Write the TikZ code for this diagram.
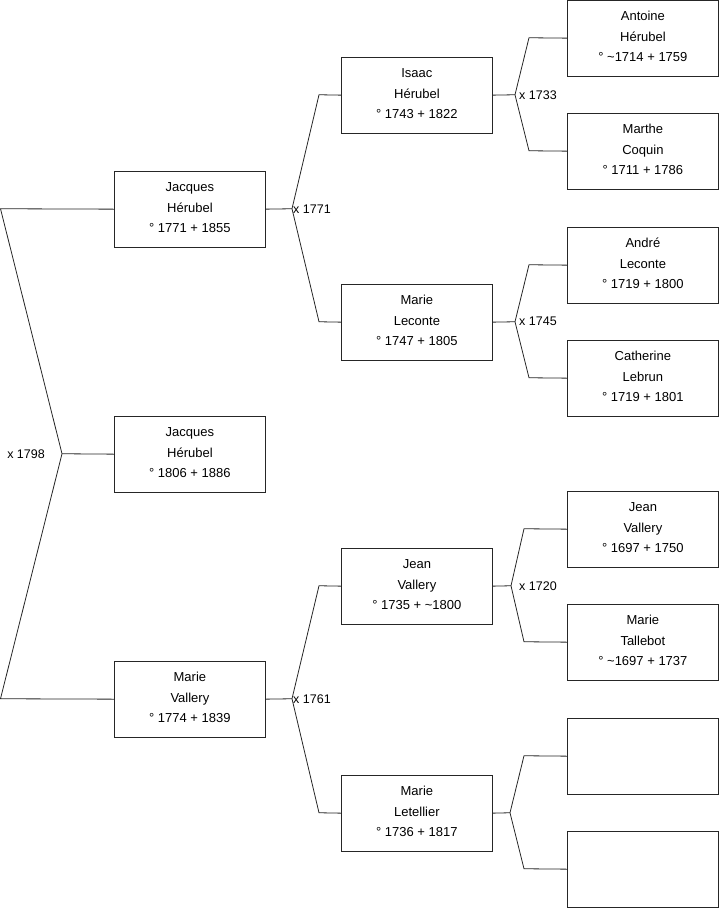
\documentclass[tikz,border=0pt]{standalone}
\usepackage{fontspec}
\setmainfont{Liberation Sans}
\begin{document}
\begin{tikzpicture}[x=1pt,y=-1pt,
  person/.style={draw=black!85, line width=0.8pt, minimum width=151pt, minimum height=75.5pt, inner sep=0pt, anchor=north west},
  txt/.style={align=center, inner sep=0pt, yshift=1.5pt, font=\fontsize{13}{20.5}\selectfont},
  link/.style={draw=black!85, line width=0.8pt},
  lbl/.style={font=\fontsize{12.5}{14}\selectfont, inner sep=0pt}]
\useasboundingbox (0,0) rectangle (719,908);
% column 1
\node[person, label={[txt]center:{Jacques\\Hérubel\\° 1771 + 1855}}] (j1) at (114,171) {};
\node[person, label={[txt]center:{Jacques\\Hérubel\\° 1806 + 1886}}] (j0) at (114,416) {};
\node[person, label={[txt]center:{Marie\\Vallery\\° 1774 + 1839}}] (mv) at (114,661) {};
% column 2
\node[person, label={[txt]center:{Isaac\\Hérubel\\° 1743 + 1822}}] (ih) at (341,57) {};
\node[person, label={[txt]center:{Marie\\Leconte\\° 1747 + 1805}}] (ml) at (341,284) {};
\node[person, label={[txt]center:{Jean\\Vallery\\° 1735 + \textasciitilde 1800}}] (jv) at (341,548) {};
\node[person, label={[txt]center:{Marie\\Letellier\\° 1736 + 1817}}] (mle) at (341,775) {};
% column 3
\node[person, label={[txt]center:{Antoine\\Hérubel\\° \textasciitilde 1714 + 1759}}] (ah) at (567,0) {};
\node[person, label={[txt]center:{Marthe\\Coquin\\° 1711 + 1786}}] (mc) at (567,113) {};
\node[person, label={[txt]center:{André\\Leconte\\° 1719 + 1800}}] (al) at (567,227) {};
\node[person, label={[txt]center:{Catherine\\Lebrun\\° 1719 + 1801}}] (cl) at (567,340) {};
\node[person, label={[txt]center:{Jean\\Vallery\\° 1697 + 1750}}] (jv2) at (567,491) {};
\node[person, label={[txt]center:{Marie\\Tallebot\\° \textasciitilde 1697 + 1737}}] (mt) at (567,604) {};
\node[person] (e1) at (567,718) {};
\node[person] (e2) at (567,831) {};
% left bracket
\coordinate (a1) at (0.5,208.75);
\coordinate (a0) at (62,453.75);
\coordinate (a2) at (0.5,698.75);
\draw[link] (j1.west) -- (a1) -- (a0) -- (a2) -- (mv.west);
\draw[link] (a0) -- (j0.west);
\node[lbl, anchor=east] (l1798) at (45,453.75) {x 1798};
% j1 parents
\coordinate (b1) at (292,208.75);
\coordinate (b1u) at (319,94.75);
\coordinate (b1d) at (319,321.75);
\draw[link] (j1.east) -- (b1);
\draw[link] (ih.west) -- (b1u) -- (b1) -- (b1d) -- (ml.west);
\node[lbl, anchor=west] (l1771) at (293,208.75) {x 1771};
% mv parents
\coordinate (b2) at (292,698.75);
\coordinate (b2u) at (319,585.75);
\coordinate (b2d) at (319,812.75);
\draw[link] (mv.east) -- (b2);
\draw[link] (jv.west) -- (b2u) -- (b2) -- (b2d) -- (mle.west);
\node[lbl, anchor=west] (l1761) at (293,698.75) {x 1761};
% ih parents
\coordinate (c1) at (515,94.75);
\coordinate (c1u) at (529,37.75);
\coordinate (c1d) at (529,150.75);
\draw[link] (ih.east) -- (c1);
\draw[link] (ah.west) -- (c1u) -- (c1) -- (c1d) -- (mc.west);
\node[lbl, anchor=west] (l1733) at (519,94.75) {x 1733};
% ml parents
\coordinate (c2) at (515,321.75);
\coordinate (c2u) at (529,264.75);
\coordinate (c2d) at (529,377.75);
\draw[link] (ml.east) -- (c2);
\draw[link] (al.west) -- (c2u) -- (c2) -- (c2d) -- (cl.west);
\node[lbl, anchor=west] (l1745) at (519,321.75) {x 1745};
% jv parents
\coordinate (c3) at (511,585.75);
\coordinate (c3u) at (524,528.75);
\coordinate (c3d) at (524,641.75);
\draw[link] (jv.east) -- (c3);
\draw[link] (jv2.west) -- (c3u) -- (c3) -- (c3d) -- (mt.west);
\node[lbl, anchor=west] (l1720) at (519,585.75) {x 1720};
% mle parents
\coordinate (c4) at (510,812.75);
\coordinate (c4u) at (524,755.75);
\coordinate (c4d) at (524,868.75);
\draw[link] (mle.east) -- (c4);
\draw[link] (e1.west) -- (c4u) -- (c4) -- (c4d) -- (e2.west);
\end{tikzpicture}
\end{document}
